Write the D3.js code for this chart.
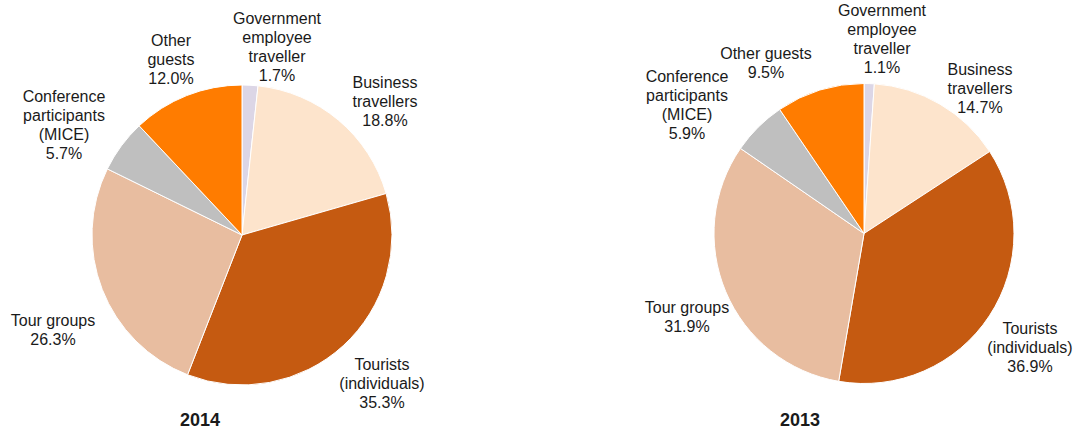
<!DOCTYPE html>
<html>
<head>
<meta charset="utf-8">
<script src="https://cdn.jsdelivr.net/npm/d3@7"></script>
<style>
  html, body { margin: 0; padding: 0; background: #fff; }
  svg { display: block; }
  text { font-family: "Liberation Sans", Arial, sans-serif; fill: #1a1a1a; }
</style>
</head>
<body>
<svg id="chart" width="1078" height="431"></svg>
<script>
// Guest segments, clockwise from 12 o'clock
const categories = [
  "Government employee traveller",
  "Business travellers",
  "Tourists (individuals)",
  "Tour groups",
  "Conference participants (MICE)",
  "Other guests"
];
const colors = ["#dcd6e6", "#fde4cc", "#c55a11", "#e8bda0", "#bfbfbf", "#ff7c00"];

const years = ["2014", "2013"];
const shares2014 = [1.7, 18.8, 35.3, 26.3, 5.7, 12.0];
const shares2013 = [1.1, 14.7, 36.9, 31.9, 5.9, 9.5];

// Label line breaks per segment and year
const labelLines2014 = [
  ["Government", "employee", "traveller"],
  ["Business", "travellers"],
  ["Tourists", "(individuals)"],
  ["Tour groups"],
  ["Conference", "participants", "(MICE)"],
  ["Other", "guests"]
];
const labelLines2013 = [
  ["Government", "employee", "traveller"],
  ["Business", "travellers"],
  ["Tourists", "(individuals)"],
  ["Tour groups"],
  ["Conference", "participants", "(MICE)"],
  ["Other guests"]
];

// Layout of each pie and where its labels sit (label centre x, first line y)
const layouts = [
  { cx: 242, cy: 235, r: 150, titleX: 200, titleY: 426,
    labels: [[277, 24], [385, 88], [382, 370], [53, 326], [64, 102], [171, 46]] },
  { cx: 864, cy: 233.5, r: 150, titleX: 800, titleY: 426,
    labels: [[882, 16], [980, 75], [1030, 334], [687, 313], [687, 82], [766, 59]] }
];
const lineH = 19;

const svg = d3.select("#chart");
const pie = d3.pie().sort(null).value(d => d);

[shares2014, shares2013].forEach((values, i) => {
  const L = layouts[i];
  const lines = i === 0 ? labelLines2014 : labelLines2013;
  const arc = d3.arc().innerRadius(0).outerRadius(L.r);
  const g = svg.append("g").attr("transform", `translate(${L.cx},${L.cy})`);

  g.selectAll("path")
    .data(pie(values))
    .join("path")
    .attr("d", arc)
    .attr("fill", (d, j) => colors[j])
    .attr("stroke", "#ffffff")
    .attr("stroke-width", 1);

  values.forEach((v, j) => {
    const [lx, ly] = L.labels[j];
    const t = svg.append("text")
      .attr("x", lx).attr("y", ly)
      .attr("text-anchor", "middle")
      .attr("font-size", 16);
    lines[j].concat([v.toFixed(1) + "%"]).forEach((s, k) => {
      t.append("tspan").attr("x", lx).attr("dy", k === 0 ? 0 : lineH).text(s);
    });
  });

  svg.append("text")
    .attr("x", L.titleX).attr("y", L.titleY)
    .attr("text-anchor", "middle")
    .attr("font-size", 18)
    .attr("font-weight", "bold")
    .text(years[i]);
});
</script>
</body>
</html>
